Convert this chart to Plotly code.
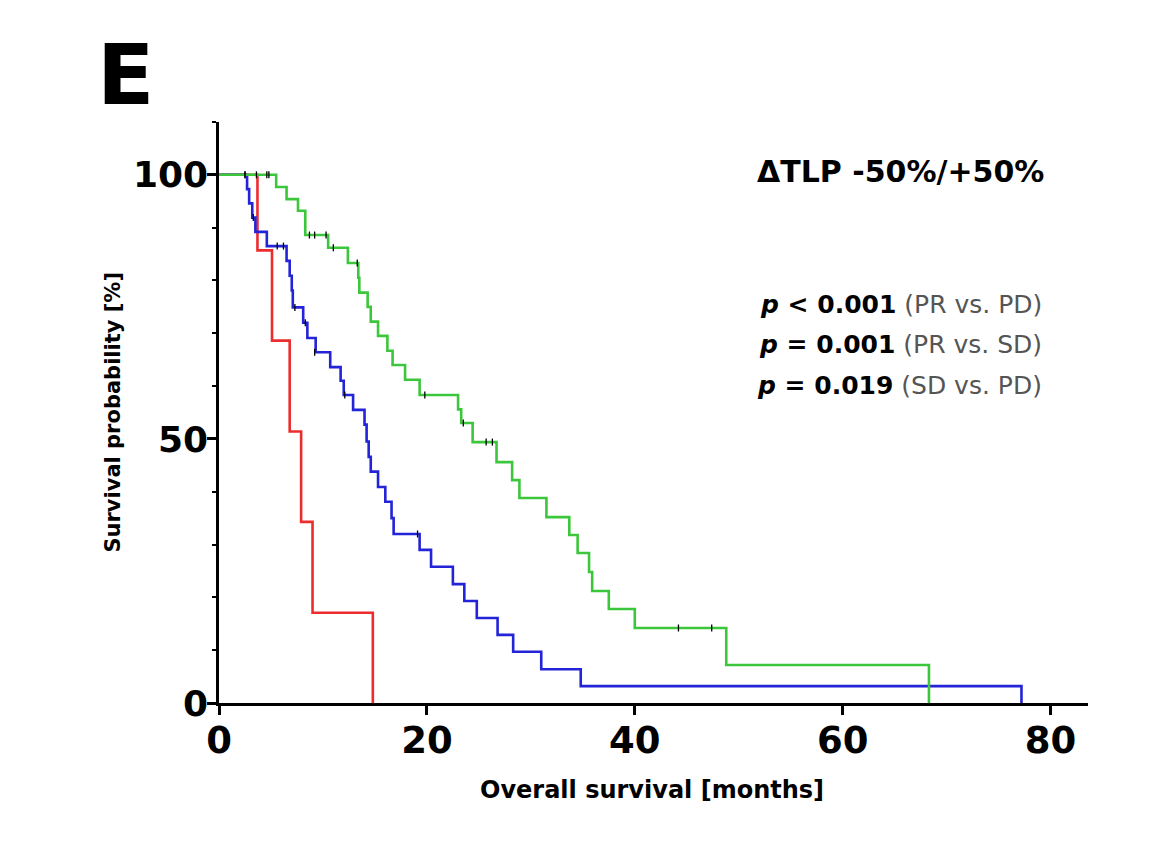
import plotly.graph_objects as go

# ---- data ----
# PD group (red)
pd_times = [3.7, 5.1, 6.8, 7.9, 9.0, 14.8]
pd_surv = [85.7, 68.6, 51.4, 34.3, 17.1, 0.0]

# SD group (blue)
sd_times = [2.7, 2.9, 3.2, 3.5, 4.6, 6.5, 6.8, 7.0, 7.1, 8.1, 8.5, 9.3, 10.7, 11.7, 12.0,
            12.9, 14.0, 14.2, 14.4, 14.6, 15.3, 16.0, 16.6, 16.8, 19.3, 20.4, 22.5, 23.6,
            24.8, 26.8, 28.3, 31.0, 34.8, 77.2]
sd_surv = [97.3, 94.6, 91.9, 89.2, 86.5, 83.7, 80.9, 78.1, 74.9, 72.0, 69.1, 66.4, 63.6, 61.0, 58.3,
           55.5, 52.7, 49.5, 46.6, 43.8, 40.9, 38.1, 35.0, 32.0, 29.0, 25.8, 22.5, 19.3,
           16.1, 12.9, 9.7, 6.4, 3.2, 0.0]
sd_cens_t = [2.5, 3.3, 5.6, 6.2, 7.3, 8.3, 9.2, 12.1, 19.1]
sd_cens_s = [100.0, 91.9, 86.5, 86.5, 74.9, 72.0, 66.4, 58.3, 32.0]

# PR group (green)
pr_times = [5.5, 6.5, 7.6, 8.3, 10.5, 12.4, 13.4, 13.5, 14.3, 14.6, 15.3, 16.2, 16.7, 17.9,
            19.3, 23.0, 23.3, 24.4, 26.7, 28.2, 28.9, 31.5, 33.7, 34.5, 35.6, 35.9, 37.5,
            40.0, 48.8, 68.3]
pr_surv = [97.7, 95.4, 93.2, 88.6, 86.2, 83.3, 80.5, 77.7, 75.0, 72.2, 69.5, 66.7, 64.0, 61.2,
           58.3, 55.6, 53.0, 49.4, 45.6, 42.2, 38.8, 35.2, 31.8, 28.4, 24.8, 21.2, 17.8,
           14.2, 7.2, 0.0]
pr_cens_t = [2.5, 3.6, 4.6, 4.8, 8.7, 9.2, 10.3, 11.0, 13.3, 19.8, 23.5, 25.7, 26.3, 44.2, 47.4]
pr_cens_s = [100.0, 100.0, 100.0, 100.0, 88.6, 88.6, 88.6, 86.2, 83.3, 58.3, 53.0, 49.4, 49.4, 14.2, 14.2]

x_ticks = [0, 20, 40, 60, 80]
y_ticks = [0, 50, 100]

title_text = "ΔTLP -50%/+50%"
p_lines = [("&lt; 0.001", "(PR vs. PD)"), ("= 0.001", "(PR vs. SD)"), ("= 0.019", "(SD vs. PD)")]

FONT = "DejaVu Sans"
RED = "rgb(236,45,45)"
BLUE = "rgb(35,35,215)"
GREEN = "rgb(60,198,60)"

fig = go.Figure()


def add_curve(times, surv, color):
    fig.add_trace(go.Scatter(x=[0] + times, y=[100] + surv, mode="lines",
                             line=dict(color=color, width=2.6, shape="hv"),
                             showlegend=False, hoverinfo="skip"))


def add_cens(times, surv):
    fig.add_trace(go.Scatter(x=times, y=surv, mode="markers",
                             marker=dict(symbol="line-ns", size=5,
                                         line=dict(color="black", width=1.3)),
                             showlegend=False, hoverinfo="skip"))


add_curve(pd_times, pd_surv, RED)
add_curve(sd_times, sd_surv, BLUE)
add_curve(pr_times, pr_surv, GREEN)
add_cens(sd_cens_t, sd_cens_s)
add_cens(pr_cens_t, pr_cens_s)

fig.update_layout(
    width=1158, height=843,
    margin=dict(l=211, r=78, t=114, b=148),
    paper_bgcolor="white", plot_bgcolor="white",
    font=dict(family=FONT, color="black"),
    showlegend=False,
)

fig.update_xaxes(range=[0, 83.6], showgrid=False, zeroline=False,
                 showline=True, linecolor="black", linewidth=2.5,
                 ticks="outside", ticklen=9, tickwidth=2.5, tickcolor="black",
                 tickvals=x_ticks, ticktext=[str(v) for v in x_ticks],
                 ticklabelstandoff=-6,
                 tickfont=dict(family=FONT, size=37, color="black", weight="bold"))
fig.update_yaxes(range=[0, 110], showgrid=False, zeroline=False,
                 showline=True, linecolor="black", linewidth=2.5,
                 ticks="outside", ticklen=9, tickwidth=2.5, tickcolor="black",
                 tickvals=y_ticks, ticktext=[str(v) for v in y_ticks],
                 ticklabelstandoff=-8,
                 tickfont=dict(family=FONT, size=36, color="black", weight="bold"),
                 minor=dict(ticks="outside", ticklen=4, tickwidth=1.5, tickcolor="black",
                            dtick=10, showgrid=False))

annotations = [
    dict(text="<b>E</b>", xref="paper", yref="paper", x=-0.108, y=1.081,
         xanchor="center", yanchor="middle", showarrow=False,
         font=dict(family=FONT, size=84, color="black")),
    dict(text="<b>" + title_text + "</b>", xref="x", yref="y", x=79.6, y=100.6,
         xanchor="right", yanchor="middle", showarrow=False,
         font=dict(family=FONT, size=30, color="black")),
    dict(text="<b>Survival probability [%]</b>", xref="paper", yref="paper",
         x=-0.123, y=0.5, textangle=-90, xanchor="center", yanchor="middle",
         showarrow=False, font=dict(family=FONT, size=21, color="black")),
    dict(text="<b>Overall survival [months]</b>", xref="paper", yref="paper",
         x=0.498, y=-0.15, xanchor="center", yanchor="middle",
         showarrow=False, font=dict(family=FONT, size=24, color="black")),
]
p_y = [75.4, 67.8, 60.2]
for (val, comp), yy in zip(p_lines, p_y):
    annotations.append(dict(
        text="<b><i>p</i> " + val + "</b> <span style='color:#555555'>" + comp + "</span>",
        xref="x", yref="y", x=79.4, y=yy, xanchor="right", yanchor="middle",
        showarrow=False, font=dict(family=FONT, size=25, color="black")))

fig.update_layout(annotations=annotations)

fig.write_html("out.html")
